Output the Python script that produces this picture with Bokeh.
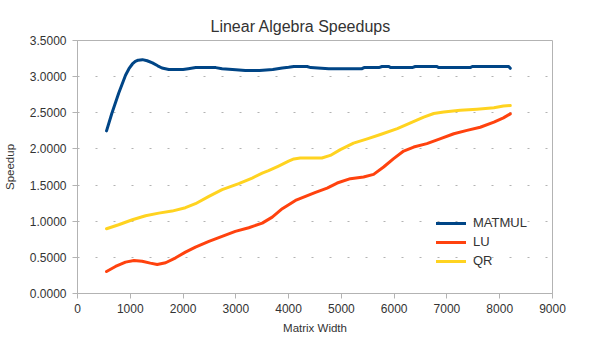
from bokeh.plotting import figure
from bokeh.models import FixedTicker, NumeralTickFormatter, Legend, LegendItem, Title
from bokeh.embed import file_html
from bokeh.resources import INLINE

# Speedup measurements against matrix width
matmul_x = [550, 650, 780, 910, 975, 1040, 1095, 1150, 1230, 1320, 1420, 1520, 1600, 1730, 2000, 2100,
            2240, 2620, 2740, 3000, 3180, 3450, 3700, 3880, 4000, 4100, 4350, 4420, 4760,
            5390, 5430, 5710, 5770, 5900, 5930, 6340, 6400, 6810, 6840, 7440, 7480, 8170, 8200]
matmul_y = [2.25, 2.49, 2.77, 3.02, 3.11, 3.175, 3.21, 3.228, 3.235, 3.22, 3.19, 3.15, 3.12, 3.10, 3.10, 3.11,
            3.125, 3.125, 3.11, 3.095, 3.085, 3.085, 3.10, 3.12, 3.13, 3.14, 3.14, 3.125, 3.11,
            3.11, 3.125, 3.125, 3.14, 3.14, 3.125, 3.125, 3.14, 3.14, 3.125, 3.125, 3.14, 3.14, 3.115]

lu_x = [550, 720, 910, 1070, 1225, 1380, 1510, 1670, 1860, 2045, 2235, 2490, 2740, 2990,
        3245, 3500, 3690, 3880, 4130, 4320, 4510, 4730, 4920, 5170, 5420, 5610, 5800, 5990,
        6180, 6370, 6620, 6880, 7130, 7380, 7630, 7890, 8070, 8200]
lu_y = [0.305, 0.374, 0.434, 0.457, 0.447, 0.42, 0.40, 0.425, 0.494, 0.572, 0.641, 0.72, 0.79, 0.859,
        0.91, 0.974, 1.057, 1.173, 1.288, 1.345, 1.40, 1.458, 1.528, 1.589, 1.611, 1.648, 1.75, 1.866,
        1.971, 2.026, 2.073, 2.142, 2.21, 2.257, 2.30, 2.37, 2.43, 2.485]

qr_x = [550, 780, 1040, 1290, 1540, 1790, 2045, 2235, 2490, 2740, 3055, 3310, 3500, 3620,
        3800, 4000, 4100, 4220, 4630, 4790, 4980, 5230, 5490, 5740, 6060, 6310, 6560, 6750,
        6940, 7250, 7570, 7890, 8070, 8200]
qr_y = [0.896, 0.951, 1.02, 1.076, 1.112, 1.14, 1.187, 1.242, 1.343, 1.436, 1.519, 1.597, 1.666, 1.70,
        1.76, 1.83, 1.862, 1.874, 1.874, 1.91, 1.99, 2.08, 2.14, 2.20, 2.28, 2.36, 2.44, 2.49,
        2.51, 2.535, 2.55, 2.57, 2.594, 2.60]

series_names = ["MATMUL", "LU", "QR"]
series_colors = ["#004586", "#ff420e", "#ffd320"]

x_ticks = [0, 1000, 2000, 3000, 4000, 5000, 6000, 7000, 8000, 9000]
y_ticks = [0, 0.5, 1.0, 1.5, 2.0, 2.5, 3.0, 3.5]

FONT = "Liberation Sans"
TEXT = "#333333"
GRAY = "#b3b3b3"

p = figure(width=605, height=340, x_range=(0, 9000), y_range=(0, 3.5),
           output_backend="svg", toolbar_location=None,
           min_border_left=77, min_border_right=53, min_border_top=40, min_border_bottom=47)
p.background_fill_color = "white"
p.border_fill_color = "white"
p.outline_line_color = GRAY

title = Title(text="Linear Algebra Speedups", align="left", offset=133,
              text_font=FONT, text_font_size="16px", text_font_style="normal",
              text_color=TEXT, standoff=11)
p.add_layout(title, "above")

p.xaxis.ticker = FixedTicker(ticks=x_ticks)
p.yaxis.ticker = FixedTicker(ticks=y_ticks)
p.xaxis.formatter = NumeralTickFormatter(format="0")
p.yaxis.formatter = NumeralTickFormatter(format="0.0000")
p.xaxis.axis_label = "Matrix Width"
p.yaxis.axis_label = "Speedup"

for ax in (p.xaxis, p.yaxis):
    ax.axis_line_color = GRAY
    ax.major_tick_line_color = GRAY
    ax.minor_tick_line_color = None
    ax.major_tick_in = 0
    ax.major_tick_out = 5
    ax.major_label_text_font = FONT
    ax.major_label_text_font_size = "12px"
    ax.major_label_text_color = TEXT
    ax.axis_label_text_font = FONT
    ax.axis_label_text_font_size = "11.5px"
    ax.axis_label_text_font_style = "normal"
    ax.axis_label_text_color = TEXT

p.xaxis.major_label_standoff = 5
p.yaxis.major_label_standoff = 6
p.xaxis.axis_label_standoff = 6
p.yaxis.axis_label_standoff = 11

p.xgrid.visible = False
p.ygrid.grid_line_color = GRAY
p.ygrid.grid_line_dash = "2 16"
p.ygrid.grid_line_width = 1

renderers = []
for xs, ys, color in zip([matmul_x, lu_x, qr_x], [matmul_y, lu_y, qr_y], series_colors):
    r = p.line(xs, ys, line_color=color, line_width=3, line_join="round", line_cap="round")
    renderers.append(r)

legend = Legend(items=[LegendItem(label=n, renderers=[r]) for n, r in zip(series_names, renderers)],
                location=(359, 25), orientation="vertical",
                glyph_width=30, glyph_height=14, spacing=4, padding=0, margin=0,
                label_standoff=7, label_text_font=FONT, label_text_font_size="13px",
                label_text_color=TEXT, border_line_alpha=0, background_fill_alpha=0)
p.add_layout(legend, "center")

open("out.html", "w").write(file_html(p, INLINE))
